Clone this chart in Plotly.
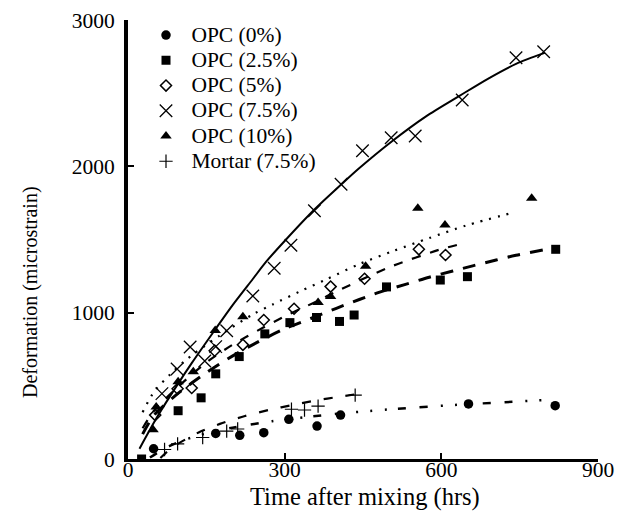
import plotly.graph_objects as go

# ---- data ----
x_opc0 = [49, 168, 214, 260, 308, 362, 407, 652, 818]
y_opc0 = [70, 175, 162, 180, 271, 225, 300, 376, 364]

x_opc25 = [26, 96, 140, 168, 213, 262, 310, 361, 405, 433, 495, 598, 650, 819]
y_opc25 = [0, 330, 418, 582, 700, 855, 932, 967, 940, 984, 1176, 1223, 1246, 1433]

x_opc5 = [52, 95, 122, 166, 220, 260, 318, 388, 453, 557, 608]
y_opc5 = [300, 480, 485, 740, 780, 950, 1027, 1178, 1232, 1433, 1394]

x_opc75 = [65, 94, 119, 147, 168, 189, 239, 280, 312, 357, 408, 449, 504, 550, 640, 743, 796]
y_opc75 = [447, 615, 765, 670, 768, 877, 1114, 1303, 1461, 1697, 1877, 2107, 2195, 2207, 2453, 2742, 2783]

x_opc10 = [48, 54, 96, 125, 167, 220, 364, 388, 455, 555, 607, 773]
y_opc10 = [200, 355, 528, 597, 878, 972, 1070, 1110, 1318, 1713, 1599, 1782]

x_mortar = [70, 95, 143, 189, 210, 313, 338, 364, 435]
y_mortar = [65, 103, 147, 190, 205, 340, 335, 362, 437]

# trend lines
fit0_x = [42, 60, 80, 112, 150, 200, 276, 384, 472, 550, 634, 720, 800]
fit0_y = [10, 50, 89, 135, 175, 214, 258, 303, 331, 352, 371, 388, 403]

fitm_x = [62, 75, 97, 138, 176, 224, 271, 316, 360, 405, 436]
fitm_y = [7, 50, 107, 186, 240, 294, 336, 370, 400, 426, 442]

fit25_x = [28, 50, 100, 150, 189, 233, 300, 350, 399, 443, 482, 533, 577, 622, 660, 705, 743, 820]
fit25_y = [170, 300, 460, 590, 680, 770, 890, 960, 1030, 1090, 1140, 1195, 1242, 1285, 1320, 1360, 1392, 1445]

fit5_x = [28, 50, 95, 150, 200, 260, 306, 354, 408, 462, 507, 596, 647]
fit5_y = [210, 330, 490, 660, 780, 900, 985, 1065, 1160, 1250, 1320, 1430, 1478]

fit10_x = [28, 50, 80, 112, 176, 240, 278, 329, 380, 443, 507, 577, 647, 740]
fit10_y = [320, 460, 575, 680, 845, 990, 1058, 1145, 1228, 1332, 1420, 1510, 1595, 1686]

fit75_x = [22, 58, 96, 122, 166, 200, 239, 265, 300, 357, 408, 442, 505, 570, 634, 690, 743, 798]
fit75_y = [70, 300, 515, 655, 880, 1050, 1230, 1350, 1490, 1705, 1875, 1985, 2170, 2340, 2480, 2600, 2700, 2775]

x_ticks = [0, 300, 600, 900]
y_ticks = [0, 1000, 2000, 3000]

names = ["OPC (0%)", "OPC (2.5%)", "OPC (5%)", "OPC (7.5%)", "OPC (10%)", "Mortar (7.5%)"]

FONT = "Liberation Serif"
fig = go.Figure()

# fitted lines (no legend)
def fit_line(x, y, dash, width):
    fig.add_trace(go.Scatter(x=x, y=y, mode="lines", showlegend=False, hoverinfo="skip",
                             line=dict(color="black", width=width, dash=dash, shape="spline", smoothing=0.8)))

fit_line(fit75_x, fit75_y, "solid", 2)
fit_line(fit10_x, fit10_y, "2px,7px", 2.2)
fit_line(fit5_x, fit5_y, "9px,10px", 2.2)
fit_line(fit25_x, fit25_y, "13px,10px", 3)
fit_line(fit0_x, fit0_y, "8px,14px,8px,13px,2px,12px,2px,13px,2px,11px", 2.5)
fit_line(fitm_x, fitm_y, "9px,13px", 2.2)

def lbl(t):
    return '<span style="font-size:21.5px">&nbsp;' + t + '</span>'

fig.add_trace(go.Scatter(x=x_opc0, y=y_opc0, mode="markers", name=lbl(names[0]),
                         marker=dict(symbol="circle", size=9.5, color="black")))
fig.add_trace(go.Scatter(x=x_opc25, y=y_opc25, mode="markers", name=lbl(names[1]),
                         marker=dict(symbol="square", size=9, color="black")))
fig.add_trace(go.Scatter(x=x_opc5, y=y_opc5, mode="markers", name=lbl(names[2]),
                         marker=dict(symbol="diamond-open", size=8.5, color="black", line=dict(width=1.5, color="black"))))
fig.add_trace(go.Scatter(x=x_opc75, y=y_opc75, mode="markers", name=lbl(names[3]),
                         marker=dict(symbol="x-thin-open", size=12.5, color="black", line=dict(width=1.3, color="black"))))
fig.add_trace(go.Scatter(x=x_opc10, y=y_opc10, mode="markers", name=lbl(names[4]),
                         marker=dict(symbol="triangle-up", size=10, color="black")))
fig.add_trace(go.Scatter(x=x_mortar, y=y_mortar, mode="markers", name=lbl(names[5]),
                         marker=dict(symbol="cross-thin-open", size=9.5, color="black", line=dict(width=1.2, color="black"))))

# page body has an 8px margin; layout below is in page pixels minus that offset
OFF = 8
W, H = 625 - OFF, 527 - OFF
PL, PR, PT, PB = 128, 598, 20, 459  # plot-area edges in page pixels
L, T = PL - OFF, PT - OFF
R, B = W - (PR - OFF), H - (PB - OFF)
pw, ph = PR - PL, PB - PT

def px(x):
    return (x - PL) / pw

def py(y):
    return (PB - y) / ph

fig.update_layout(
    width=W, height=H,
    margin=dict(l=L, r=R, t=T, b=B, pad=0, autoexpand=False),
    paper_bgcolor="white", plot_bgcolor="white",
    font=dict(family=FONT, color="black", size=21.5),
    showlegend=True,
    legend=dict(x=px(146), y=py(17.5), xanchor="left", yanchor="top",
                bgcolor="rgba(0,0,0,0)", borderwidth=0,
                font=dict(family=FONT, size=17.1, color="black"),
                itemwidth=30, tracegroupgap=0),
    xaxis=dict(range=[0, 900], tickvals=x_ticks, ticktext=[str(v) for v in x_ticks],
               ticks="inside", ticklen=6, tickwidth=2, tickcolor="black", automargin=False,
               showline=True, linewidth=3, linecolor="black", showgrid=False, zeroline=False,
               ticklabelstandoff=-11,
               tickfont=dict(family=FONT, size=21.5, color="black")),
    yaxis=dict(range=[0, 3000], tickvals=y_ticks, ticktext=[str(v) for v in y_ticks],
               ticks="inside", ticklen=6, tickwidth=2, tickcolor="black", automargin=False,
               showline=True, linewidth=4, linecolor="black", showgrid=False, zeroline=False,
               ticklabelstandoff=5,
               tickfont=dict(family=FONT, size=21.5, color="black")),
    annotations=[
        dict(text="Time after mixing (hrs)", x=px(365), y=py(497),
             xref="paper", yref="paper", xanchor="center", yanchor="middle", showarrow=False,
             font=dict(family=FONT, size=24.5, color="black")),
        dict(text="Deformation (microstrain)", x=px(30), y=py(292),
             xref="paper", yref="paper", xanchor="center", yanchor="middle", showarrow=False,
             textangle=-90, font=dict(family=FONT, size=20, color="black")),
    ],
)

fig.write_html("out.html")
